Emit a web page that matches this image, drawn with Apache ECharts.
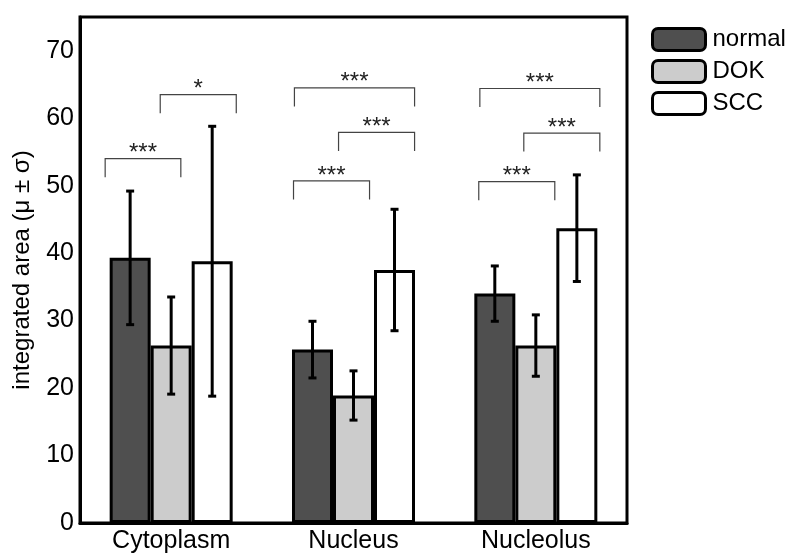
<!DOCTYPE html>
<html>
<head>
<meta charset="utf-8">
<script src="https://cdn.jsdelivr.net/npm/echarts@6/dist/echarts.min.js"></script>
<style>html,body{margin:0;padding:0;background:#fff}#c{width:793px;height:556px}</style>
</head>
<body>
<div id="c"></div>
<script>
var categories = ['Cytoplasm', 'Nucleus', 'Nucleolus'];
var groupNames = ['normal', 'DOK', 'SCC'];
var normalMean = [39.3, 25.7, 34.0];
var normalSd = [9.9, 4.2, 4.1];
var dokMean = [26.3, 18.9, 26.3];
var dokSd = [7.2, 3.65, 4.55];
var sccMean = [38.8, 37.5, 43.7];
var sccSd = [20.0, 9.0, 7.9];
var yTicks = [0, 10, 20, 30, 40, 50, 60, 70];
// significance brackets: [categoryIndex, startOffset, endOffset (category units), height, label]
var brackets = [
  [0, -0.362, 0.053, 54.0, '***'],
  [0, -0.060, 0.357, 63.5, '*'],
  [1, -0.324, 0.335, 64.5, '***'],
  [1, -0.082, 0.335, 57.9, '***'],
  [1, -0.329, 0.088, 50.7, '***'],
  [2, -0.307, 0.351, 64.4, '***'],
  [2, -0.066, 0.351, 57.8, '***'],
  [2, -0.313, 0.104, 50.6, '***']
];

var FONT = "'Liberation Sans', Arial, sans-serif";
var colors = ['#4f4f4f', '#cccccc', '#ffffff'];
var means = [normalMean, dokMean, sccMean];
var sds = [normalSd, dokSd, sccSd];
var BAR_FRAC = 0.225;

var series = [];
groupNames.forEach(function (n, i) {
  series.push({
    name: n, type: 'bar', barWidth: 41, barGap: '0%',
    data: means[i],
    itemStyle: { color: colors[i], borderColor: '#000', borderWidth: 3 },
    z: 2
  });
});
groupNames.forEach(function (n, i) {
  series.push({
    type: 'custom', z: 5, silent: true,
    data: means[i].map(function (m, k) { return [k, m - sds[i][k], m + sds[i][k]]; }),
    renderItem: function (params, api) {
      var band = api.size([1, 0])[0];
      var c = api.coord([api.value(0), 0]);
      var x = c[0] + (i - 1) * BAR_FRAC * band;
      var lo = api.coord([api.value(0), api.value(1)])[1];
      var hi = api.coord([api.value(0), api.value(2)])[1];
      var st = { stroke: '#000', lineWidth: 3 };
      return { type: 'group', children: [
        { type: 'line', shape: { x1: x, y1: lo, x2: x, y2: hi }, style: st },
        { type: 'line', shape: { x1: x - 4, y1: lo, x2: x + 4, y2: lo }, style: st },
        { type: 'line', shape: { x1: x - 4, y1: hi, x2: x + 4, y2: hi }, style: st }
      ]};
    }
  });
});
series.push({
  type: 'custom', z: 6, silent: true,
  data: brackets.map(function (b) { return [b[0], b[1], b[2], b[3], b[3] - 2.75]; }),
  renderItem: function (params, api) {
    var band = api.size([1, 0])[0];
    var c = api.coord([api.value(0), api.value(3)]);
    var yb = api.coord([api.value(0), api.value(4)])[1];
    var x0 = c[0] + api.value(1) * band;
    var x1 = c[0] + api.value(2) * band;
    var lbl = brackets[params.dataIndex][4];
    return { type: 'group', children: [
      { type: 'polyline', shape: { points: [[x0, yb], [x0, c[1]], [x1, c[1]], [x1, yb]] },
        style: { stroke: '#444', lineWidth: 1.2, fill: null } },
      { type: 'text', x: (x0 + x1) / 2, y: c[1] - 5,
        style: { text: lbl, fill: '#222', font: '24px ' + FONT, align: 'center', verticalAlign: 'middle' } }
    ]};
  }
});

var chart = echarts.init(document.getElementById('c'));
chart.setOption({
  animation: false,
  backgroundColor: '#fff',
  grid: { left: 80, right: 166, top: 17, bottom: 33, show: true, borderColor: '#000', borderWidth: 3, backgroundColor: 'transparent' },
  legend: {
    data: groupNames, orient: 'vertical', left: 651, top: 27, padding: 0,
    itemWidth: 53, itemHeight: 22, itemGap: 7, icon: 'roundRect',
    itemStyle: { borderColor: '#000', borderWidth: 3 },
    textStyle: { fontFamily: FONT, fontSize: 24, color: '#000', lineHeight: 22, padding: [0, 0, 0, 2] }
  },
  xAxis: {
    type: 'category', data: categories,
    axisLine: { lineStyle: { color: '#000', width: 3 } },
    axisTick: { show: false },
    axisLabel: { color: '#000', fontFamily: FONT, fontSize: 25, margin: 6 }
  },
  yAxis: {
    type: 'value', min: 0, max: 75, interval: 10,
    name: 'integrated area (μ ± σ)', nameLocation: 'middle', nameGap: 46,
    nameTextStyle: { color: '#000', fontFamily: FONT, fontSize: 24 },
    axisLine: { show: true, lineStyle: { color: '#000', width: 3 } },
    axisTick: { show: false },
    splitLine: { show: false },
    axisLabel: { color: '#000', fontFamily: FONT, fontSize: 25, margin: 6, showMaxLabel: false, padding: [4, 0, 0, 0],
      formatter: function (v) { return yTicks.indexOf(v) >= 0 ? String(v) : ''; } }
  },
  series: series
});
</script>
</body>
</html>
